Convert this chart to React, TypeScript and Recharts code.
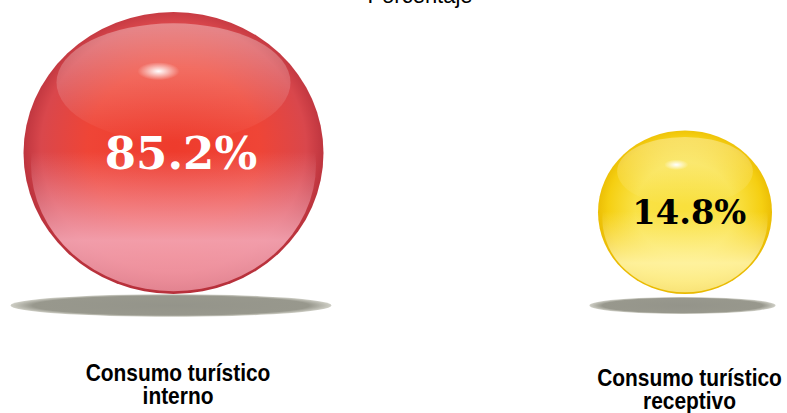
import {Scatter, ScatterChart, XAxis, YAxis, ZAxis} from "recharts"

// datos: participación en el consumo turístico (porcentaje)
const categories = ["Consumo turístico interno", "Consumo turístico receptivo"]
const shares = [85.2, 14.8]
const title = "Porcentaje"

const PALETTE = [
    {rim: "#b52f3a", mid: "#d9474c", core: "#ee3b2c", glow: "#f4a6b4", text: "#ffffff"},
    {rim: "#e8b800", mid: "#f5cf12", core: "#f9e03c", glow: "#fff4a8", text: "#000000"},
]

const chartData = categories.map((name, i) => ({
    pos: i,
    y: 0,
    value: shares[i],
    name,
}))

function Sphere(props: any) {
    const {cx, cy, width, payload} = props
    const i = payload.pos
    const pal = PALETTE[i]
    const r = width / 2
    const ry = r * 0.94
    const cc = cy - ry
    const fs = 18 + r * 0.18
    return (
        <g>
            <defs>
                <radialGradient id={`base${i}`} cx="50%" cy="48%" r="52%">
                    <stop offset="0%" stopColor={pal.core}/>
                    <stop offset="55%" stopColor={pal.core} stopOpacity={0.95}/>
                    <stop offset="85%" stopColor={pal.mid}/>
                    <stop offset="100%" stopColor={pal.rim}/>
                </radialGradient>
                <linearGradient id={`glow${i}`} x1="0" y1="0" x2="0" y2="1">
                    <stop offset="0%" stopColor={pal.glow} stopOpacity={0}/>
                    <stop offset="45%" stopColor={pal.glow} stopOpacity={0}/>
                    <stop offset="80%" stopColor={pal.glow} stopOpacity={0.9}/>
                    <stop offset="100%" stopColor={pal.glow} stopOpacity={0.7}/>
                </linearGradient>
                <linearGradient id={`top${i}`} x1="0" y1="0" x2="0" y2="1">
                    <stop offset="0%" stopColor="#ffffff" stopOpacity={0.35}/>
                    <stop offset="100%" stopColor="#ffffff" stopOpacity={0}/>
                </linearGradient>
                <radialGradient id={`spot${i}`}>
                    <stop offset="0%" stopColor="#ffffff" stopOpacity={1}/>
                    <stop offset="100%" stopColor="#ffffff" stopOpacity={0}/>
                </radialGradient>
                <radialGradient id={`shadow${i}`} cx="50%" cy="50%" r="50%">
                    <stop offset="0%" stopColor="#94948a"/>
                    <stop offset="86%" stopColor="#98988d"/>
                    <stop offset="100%" stopColor="#cfcfc6"/>
                </radialGradient>
            </defs>
            <ellipse cx={cx - 2.5} cy={cy + 11.5} rx={r * 1.07} ry={4.5 + r * 0.045} fill={`url(#shadow${i})`}/>
            <ellipse cx={cx} cy={cc} rx={r} ry={ry} fill={`url(#base${i})`}/>
            <ellipse cx={cx} cy={cc + ry * 0.08} rx={r * 0.95} ry={ry * 0.9} fill={`url(#glow${i})`}/>
            <ellipse cx={cx} cy={cc - ry * 0.5} rx={r * 0.78} ry={ry * 0.42} fill={`url(#top${i})`}/>
            <ellipse cx={cx - r * 0.1} cy={cc - ry * 0.58} rx={r * 0.14} ry={r * 0.06} fill={`url(#spot${i})`}/>
            <text
                x={cx + r * 0.05}
                y={cc + fs * 0.36}
                textAnchor="middle"
                fontFamily="DejaVu Serif"
                fontWeight="bold"
                fontSize={fs}
                fill={pal.text}
            >
                {payload.value.toFixed(1)}%
            </text>
        </g>
    )
}

const LABEL_DROP = [0, 5]

function CategoryTick(props: any) {
    const {x, y, payload} = props
    const i = payload.value
    const name = categories[i] ?? ""
    const lines = name.replace(/ (\S+)$/, "\n$1").split("\n")
    // letra algo condensada, como en el original
    return (
        <text
            transform={`translate(${x + 4.5},0) scale(0.91,1)`}
            textAnchor="middle"
            fontFamily="Liberation Sans"
            fontWeight="bold"
            fontSize={23}
            fill="#000000"
        >
            {lines.map((line, k) => (
                <tspan key={k} x={0} y={y + 87 + LABEL_DROP[i] + k * 23.5}>{line}</tspan>
            ))}
        </text>
    )
}

export default function App() {
    return (
        <div style={{position: "absolute", left: 0, top: 0, width: 787, height: 413, background: "#fff", overflow: "hidden"}}>
            <div style={{
                position: "absolute", left: 0, width: 840, top: -15, textAlign: "center",
                fontFamily: "Liberation Sans", fontSize: 22, lineHeight: "22px", color: "#000",
            }}>
                {title}
            </div>
            <ScatterChart width={787} height={413} margin={{top: 0, right: 102, bottom: 0, left: 173.5}}>
                <XAxis
                    dataKey="pos"
                    type="number"
                    domain={[0, 1]}
                    ticks={[0, 1]}
                    interval={0}
                    height={119}
                    tickSize={0}
                    tickMargin={0}
                    axisLine={false}
                    tickLine={false}
                    tick={<CategoryTick/>}
                />
                <YAxis dataKey="y" type="number" domain={[0, 1]} hide/>
                <ZAxis dataKey="value" type="number" domain={[0, 100]} range={[13918, 80548]}/>
                <Scatter data={chartData} shape={<Sphere/>} isAnimationActive={false}/>
            </ScatterChart>
        </div>
    )
}
